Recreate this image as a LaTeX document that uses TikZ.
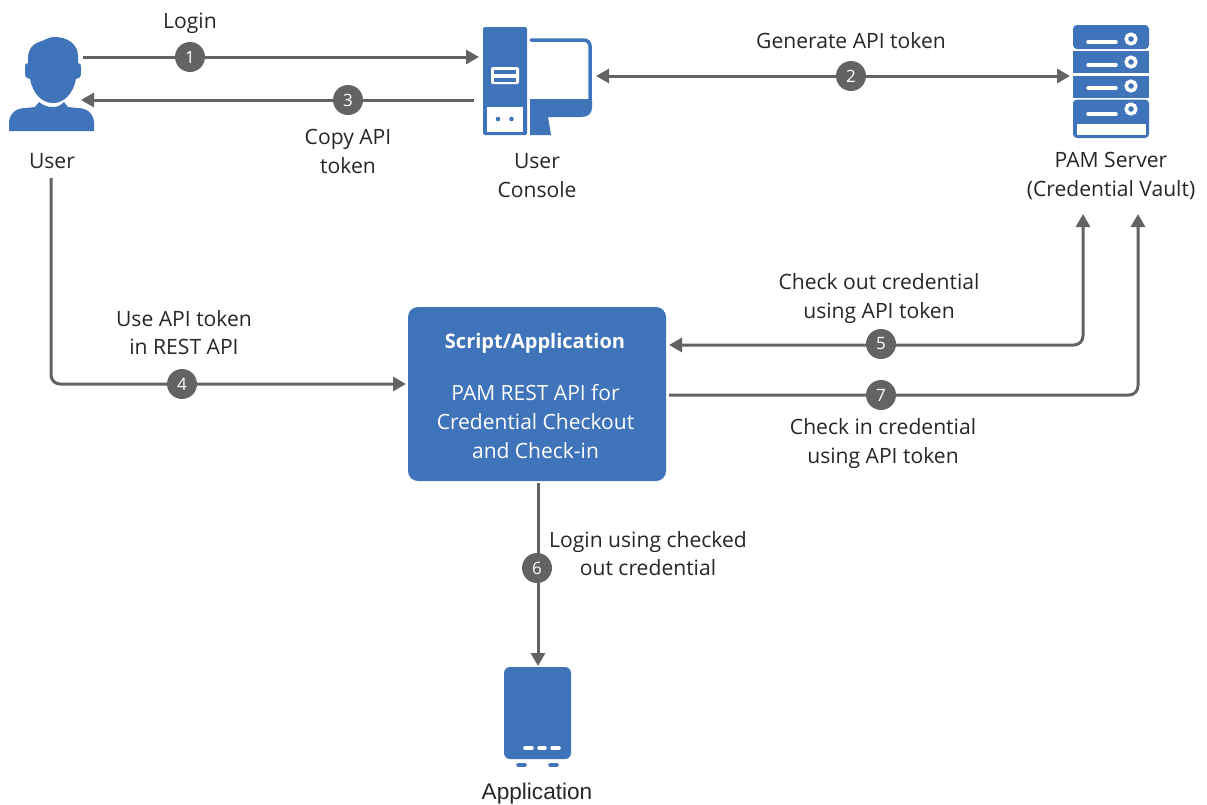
\documentclass[tikz,border=0pt]{standalone}
\usepackage{fontspec}
\usepackage{xcolor}
\setmainfont{Open Sans}
\newfontfamily\appfont{Liberation Sans}
\usetikzlibrary{arrows.meta}
\definecolor{iconblue}{HTML}{3F73BA}
\definecolor{flowgray}{HTML}{636363}
\tikzset{
    flow/.style={draw=flowgray,line width=3pt,rounded corners=9pt,-{Triangle[length=13pt,width=14pt]}},
    flowboth/.style={flow,{Triangle[length=13pt,width=14pt]}-{Triangle[length=13pt,width=14pt]}},
    stepdot/.style={circle,fill=flowgray,text=white,minimum size=30pt,inner sep=0pt,font=\fontsize{17}{17}\selectfont},
    label/.style={align=center,text=black!85,inner sep=0pt,font=\fontsize{21.1}{28.5}\selectfont},
    scriptbox/.style={fill=iconblue,rounded corners=10pt,minimum width=258pt,minimum height=174pt,inner sep=0pt},
    scripttext/.style={text=white,align=center,inner sep=0pt,font=\fontsize{21}{29}\selectfont},
}
\begin{document}
\begin{tikzpicture}[x=1pt,y=-1pt]
    \useasboundingbox (0,0) rectangle (1207,804);

    \fill[iconblue] (55,37) .. controls (47,37) and (44,41) .. (39,42) .. controls (32,44) and (28,50) .. (28,58) -- (28,63) .. controls (25,63) and (25,65) .. (25,68) -- (25,73) .. controls (25,77) and (27,79) .. (30,79) .. controls (33,94) and (42,103) .. (53,103) .. controls (64,103) and (73,94) .. (76,79) .. controls (79,79) and (81,77) .. (81,73) -- (81,68) .. controls (81,65) and (81,63) .. (78,63) -- (78,56) .. controls (78,44) and (67,37) .. (55,37) -- cycle;
    \fill[iconblue] (9,131) -- (9,122) .. controls (10,113) and (16,108) .. (26,108) -- (35,107) -- (39,102) .. controls (44,106) and (48,107) .. (53,107) .. controls (57,107) and (60,106) .. (64,102) -- (68,107) -- (77,108) .. controls (87,108) and (93,113) .. (94,122) -- (94,131) -- cycle;

    \fill[iconblue,rounded corners=1.5pt] (483,27) rectangle (527,135);
    \fill[white,rounded corners=2pt] (491,67) rectangle (519,84);
    \fill[iconblue] (494,70) rectangle (516,74);
    \fill[iconblue] (494,78) rectangle (516,82);
    \fill[white] (487,107) rectangle (523,132);
    \fill[iconblue] (498,119) circle (2.3);
    \fill[iconblue] (511.5,119) circle (2.3);
    \draw[iconblue,line width=3.5pt,line cap=round,rounded corners=6pt] (531,40) -- (590,40) -- (590,100);
    \fill[iconblue] (530,99) -- (592,99) -- (592,108) .. controls (592,113) and (588,117) .. (582,117) -- (548,117) -- (551,135) -- (530,135) -- cycle;

    \fill[iconblue,rounded corners=4pt] (1073,49) -- (1073,25) -- (1149,25) -- (1149,49) -- cycle;
    \fill[iconblue] (1073,51) rectangle (1149,73);
    \fill[iconblue] (1073,75.5) rectangle (1149,97.5);
    \fill[iconblue,rounded corners=4pt] (1073,99.5) -- (1073,138) -- (1149,138) -- (1149,99.5) -- cycle;
    \draw[white,line width=3.5pt,line cap=round] (1088,42) -- (1116,42);
    \draw[white,line width=3.5pt,line cap=round] (1088,65) -- (1116,65);
    \draw[white,line width=3.5pt,line cap=round] (1088,88) -- (1116,88);
    \draw[white,line width=3.5pt,line cap=round] (1088,114) -- (1116,114);
    \draw[white,line width=3.5pt] (1131,39) circle (4.8);
    \draw[white,line width=3.5pt] (1131,62) circle (4.8);
    \draw[white,line width=3.5pt] (1131,86) circle (4.8);
    \draw[white,line width=3.5pt] (1131,109) circle (4.8);
    \fill[white] (1077,124) rectangle (1146,135);

    \fill[iconblue,rounded corners=6pt] (504,667) rectangle (571,759);
    \draw[white,line width=3.5pt,line cap=round] (525,748) -- (532,748);
    \draw[white,line width=3.5pt,line cap=round] (539,748) -- (545,748);
    \draw[white,line width=3.5pt,line cap=round] (552,748) -- (559,748);
    \draw[iconblue,line width=3.5pt,line cap=round] (518,765) -- (525,765);
    \draw[iconblue,line width=3.5pt,line cap=round] (550,765) -- (557,765);

    \node[scriptbox] (script) at (537,394) {};
    \node[scripttext,font=\bfseries\fontsize{20}{29}\selectfont] (scripttitle) at (535,343) {Script/Application};
    \node[scripttext] (scriptlines) at (535.5,421.5) {PAM REST API for\\Credential Checkout\\and Check-in};

    \coordinate (userlogin) at (83,57);
    \coordinate (userback) at (81,100);
    \coordinate (userdown) at (51,178);
    \coordinate (consolein) at (479,57);
    \coordinate (consoleout) at (474,100);
    \coordinate (consoleside) at (596,76);
    \coordinate (serverside) at (1070,76);
    \coordinate (vaultout) at (1083,214);
    \coordinate (vaultin) at (1138,214);
    \coordinate (scriptin) at (406,384);
    \coordinate (scriptout) at (669,345);
    \coordinate (scriptback) at (669,395);
    \coordinate (scriptdown) at (538,483);
    \coordinate (appin) at (538,666);

    \draw[flow] (userlogin) -- (consolein);
    \draw[flowboth] (consoleside) -- (serverside);
    \draw[flow] (consoleout) -- (userback);
    \draw[flow] (userdown) |- (scriptin);
    \draw[flowboth] (vaultout) |- (scriptout);
    \draw[flow] (scriptdown) -- (appin);
    \draw[flow] (scriptback) -| (vaultin);

    \node[stepdot] (one) at (190,57) {1};
    \node[stepdot] (two) at (851,76) {2};
    \node[stepdot] (three) at (348,100) {3};
    \node[stepdot] (four) at (182,384) {4};
    \node[stepdot] (five) at (881,344) {5};
    \node[stepdot] (six) at (537,568) {6};
    \node[stepdot] (seven) at (881,395) {7};

    \node[label] (userlabel) at (52,161) {User};
    \node[label] (consolelabel) at (537,175.5) {User\\Console};
    \node[label] (serverlabel) at (1111,176) {PAM Server\\(Credential Vault)};
    \node[label] (loginlabel) at (190,23) {Login};
    \node[label] (generatelabel) at (851,41) {Generate API token};
    \node[label] (copylabel) at (348,151.5) {Copy API\\token};
    \node[label] (uselabel) at (184,332.5) {Use API token\\in REST API};
    \node[label] (checkoutlabel) at (879,298.5) {Check out credential\\using API token};
    \node[label] (checkinlabel) at (883,443.5) {Check in credential\\using API token};
    \node[label] (loginusinglabel) at (648,553.5) {Login using checked\\out credential};
    \node[label,font=\appfont\fontsize{22.6}{24}\selectfont] (applabel) at (537,794) {Application};
\end{tikzpicture}
\end{document}
